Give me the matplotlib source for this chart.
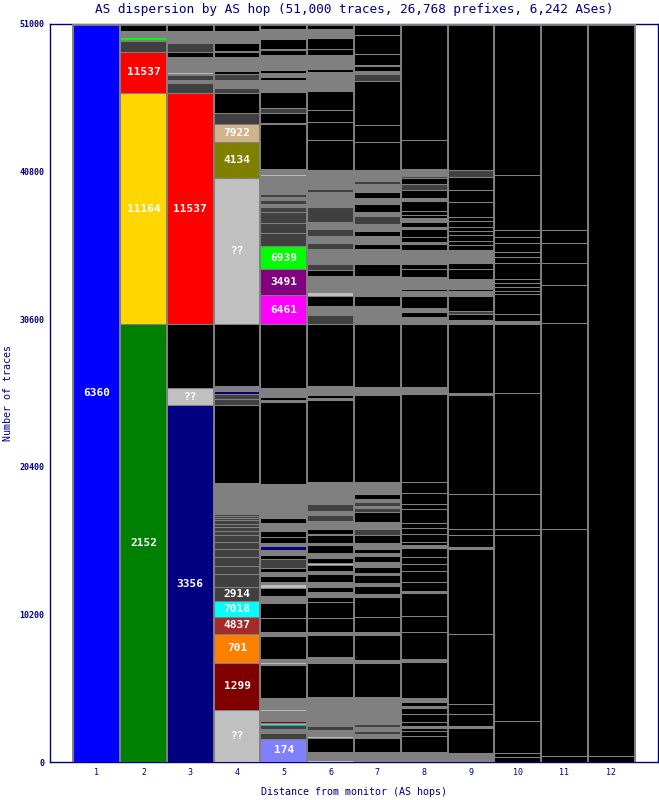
import matplotlib
matplotlib.use("Agg")
import matplotlib.pyplot as plt

# AS dispersion chart: each hop column is a stack of (traces, colour, label), bottom to top
palette = {'k': '#000000', 'd': '#404040', 'g': '#808080', 'l': '#c0c0c0',
           'blue': '#0000ff', 'green': '#008000', 'gold': '#ffd700', 'red': '#ff0000',
           'lime': '#00ff00', 'navy': '#000080', 'olive': '#808000', 'tan': '#d2b48c',
           'cyan': '#00ffff', 'brown': '#a52a2a', 'orange': '#ff8000', 'maroon': '#800000',
           'magenta': '#ff00ff', 'purple': '#800080', 'peri': '#8080ff'}

col1 = [(51000, 'blue', '6360')]

col2 = [(30240, 'green', '2152'), (15990, 'gold', '11164'), (2840, 'red', '11537'),
        (760, 'd', ''), (70, 'g', ''), (210, 'lime', ''), (100, 'g', ''), (70, 'l', ''),
        (210, 'g', ''), (600, 'k', '')]

col3 = [(24640, 'navy', '3356'), (1180, 'l', '??'), (4430, 'k', ''), (15990, 'red', '11537'),
        (690, 'd', ''), (210, 'g', ''), (350, 'd', ''), (70, 'g', ''), (140, 'l', ''),
        (1040, 'g', ''), (350, 'k', ''), (620, 'd', ''), (830, 'g', ''), (600, 'k', '')]

col4 = [(3600, 'l', '??'), (3250, 'maroon', '1299'), (2010, 'orange', '701'),
        (1180, 'brown', '4837'), (1110, 'cyan', '7018'), (970, 'd', '2914'), (900, 'd', ''),
        (550, 'd', ''), (620, 'd', ''), (550, 'd', ''), (480, 'd', ''), (480, 'd', ''),
        (280, 'd', ''), (280, 'd', ''), (210, 'd', ''), (280, 'd', ''), (140, 'd', ''),
        (140, 'd', ''), (140, 'd', ''), (130, 'g', ''), (2010, 'g', ''), (5330, 'k', ''),
        (420, 'd', ''), (350, 'd', ''), (210, 'navy', ''), (350, 'g', ''), (4290, 'k', ''),
        (10100, 'l', '??'), (2490, 'olive', '4134'), (1250, 'tan', '7922'), (760, 'd', ''),
        (1380, 'k', ''), (350, 'd', ''), (550, 'g', ''), (420, 'd', ''), (210, 'k', ''),
        (970, 'g', ''), (350, 'k', ''), (70, 'g', ''), (550, 'k', ''), (830, 'g', ''),
        (600, 'k', '')]

col5 = [(1590, 'peri', '174'), (420, 'd', ''), (280, 'g', ''), (280, 'd', ''), (140, 'cyan', ''),
        (140, 'maroon', ''), (690, 'g', ''), (140, 'l', ''), (760, 'g', ''), (2280, 'k', ''),
        (70, 'g', ''), (140, 'l', ''), (210, 'g', ''), (1590, 'k', ''), (280, 'g', ''),
        (970, 'k', ''), (1040, 'k', ''), (350, 'g', ''), (70, 'l', ''), (550, 'k', ''),
        (280, 'l', ''), (140, 'g', ''), (420, 'k', ''), (280, 'g', ''), (280, 'k', ''),
        (620, 'd', ''), (280, 'k', ''), (350, 'g', ''), (280, 'navy', ''), (210, 'g', ''),
        (420, 'k', ''), (420, 'k', ''), (550, 'g', ''), (350, 'k', ''), (350, 'g', ''),
        (2010, 'g', ''), (5670, 'k', ''), (140, 'g', ''), (210, 'k', ''), (620, 'g', ''),
        (4380, 'k', ''), (2010, 'magenta', '6461'), (1800, 'purple', '3491'),
        (1590, 'lime', '6939'), (900, 'd', ''), (690, 'd', ''), (760, 'd', ''), (350, 'd', ''),
        (210, 'g', ''), (280, 'd', ''), (210, 'g', ''), (210, 'd', ''), (420, 'g', ''),
        (830, 'g', ''), (140, 'l', ''), (350, 'g', ''), (3110, 'k', ''), (70, 'g', ''),
        (690, 'k', ''), (350, 'd', ''), (1110, 'k', ''), (830, 'g', ''), (210, 'k', ''),
        (210, 'g', ''), (210, 'k', ''), (1040, 'g', ''), (350, 'k', ''), (70, 'g', ''),
        (690, 'k', ''), (690, 'g', ''), (600, 'k', '')]

col6 = [(140, 'l', ''), (550, 'g', ''), (970, 'k', ''), (140, 'l', ''), (420, 'g', ''),
        (280, 'd', ''), (2010, 'g', ''), (2350, 'k', ''), (420, 'g', ''), (1520, 'k', ''),
        (210, 'g', ''), (970, 'k', ''), (1110, 'k', ''), (280, 'k', ''), (350, 'g', ''),
        (350, 'k', ''), (350, 'g', ''), (550, 'k', ''), (210, 'g', ''), (420, 'k', ''),
        (140, 'l', ''), (350, 'k', ''), (350, 'g', ''), (550, 'k', ''), (140, 'g', ''),
        (550, 'k', ''), (70, 'g', ''), (350, 'k', ''), (550, 'g', ''), (420, 'd', ''),
        (280, 'g', ''), (480, 'd', ''), (1520, 'g', ''), (5670, 'k', ''), (140, 'g', ''),
        (210, 'k', ''), (620, 'g', ''), (4290, 'k', ''),
        (620, 'd', ''), (70, 'l', ''), (550, 'g', ''), (690, 'k', ''), (280, 'l', ''),
        (1110, 'g', ''), (420, 'k', ''), (420, 'd', ''), (1040, 'g', ''), (420, 'd', ''),
        (480, 'g', ''), (480, 'd', ''), (480, 'g', ''), (1040, 'd', ''), (350, 'g', ''),
        (70, 'l', ''), (620, 'g', ''), (210, 'd', ''), (1310, 'g', ''), (2010, 'k', ''),
        (1250, 'k', ''), (830, 'k', ''), (1310, 'k', ''), (1310, 'g', ''), (210, 'k', ''),
        (970, 'g', ''), (420, 'k', ''), (760, 'k', ''), (620, 'g', ''), (700, 'k', '')]

col7 = [(690, 'g', ''), (970, 'k', ''), (280, 'g', ''), (210, 'd', ''), (280, 'g', ''),
        (210, 'd', ''), (280, 'g', ''), (1590, 'g', ''), (2350, 'k', ''), (210, 'g', ''),
        (1730, 'k', ''), (210, 'g', ''), (1040, 'k', ''), (1380, 'k', ''), (210, 'g', ''),
        (550, 'k', ''), (210, 'g', ''), (550, 'k', ''), (140, 'g', ''), (420, 'k', ''),
        (280, 'g', ''), (480, 'k', ''), (140, 'g', ''), (280, 'k', ''), (420, 'g', ''),
        (550, 'k', ''), (420, 'd', ''), (480, 'g', ''), (690, 'k', ''), (280, 'd', ''),
        (140, 'g', ''), (280, 'd', ''), (210, 'g', ''), (350, 'k', ''), (830, 'g', ''),
        (6020, 'k', ''), (550, 'g', ''), (4360, 'k', ''),
        (1250, 'g', ''), (690, 'k', ''), (1380, 'g', ''), (830, 'k', ''), (1040, 'g', ''),
        (350, 'k', ''), (550, 'g', ''), (350, 'k', ''), (480, 'g', ''), (550, 'd', ''),
        (280, 'g', ''), (550, 'k', ''), (420, 'g', ''), (420, 'k', ''), (550, 'g', ''),
        (210, 'd', ''), (760, 'g', ''), (1940, 'k', ''), (1180, 'k', ''), (3040, 'k', ''),
        (480, 'd', ''), (210, 'g', ''), (350, 'k', ''), (70, 'g', ''), (760, 'k', ''),
        (1310, 'k', ''), (700, 'k', '')]

col8 = [(350, 'g', ''), (70, 'd', ''), (280, 'g', ''), (1110, 'k', ''), (350, 'k', ''),
        (210, 'k', ''), (140, 'g', ''), (280, 'k', ''), (550, 'k', ''), (420, 'k', ''),
        (140, 'g', ''), (280, 'k', ''), (210, 'g', ''), (2490, 'k', ''), (210, 'g', ''),
        (1870, 'k', ''), (1110, 'k', ''), (1590, 'k', ''), (140, 'g', ''), (620, 'k', ''),
        (760, 'k', ''), (480, 'k', ''), (480, 'k', ''), (620, 'k', ''), (210, 'g', ''),
        (210, 'k', ''), (550, 'k', ''), (420, 'k', ''), (350, 'k', ''), (970, 'k', ''),
        (350, 'k', ''), (760, 'k', ''), (760, 'k', ''), (6090, 'k', ''), (480, 'g', ''),
        (4360, 'k', ''),
        (480, 'g', ''), (350, 'k', ''), (280, 'g', ''), (830, 'k', ''), (350, 'g', ''),
        (140, 'k', ''), (830, 'g', ''), (550, 'k', ''), (350, 'k', ''), (970, 'g', ''),
        (420, 'k', ''), (140, 'g', ''), (350, 'k', ''), (550, 'k', ''), (140, 'g', ''),
        (350, 'k', ''), (210, 'g', ''), (210, 'k', ''), (280, 'k', ''), (690, 'k', ''),
        (210, 'g', ''), (550, 'k', ''), (420, 'd', ''), (420, 'k', ''), (140, 'd', ''),
        (480, 'g', ''), (2010, 'k', ''), (8300, 'k', '')]

col9 = [(620, 'g', ''), (1730, 'k', ''), (140, 'g', ''), (830, 'k', ''), (690, 'k', ''),
        (4840, 'k', ''), (5880, 'k', ''), (140, 'g', ''), (830, 'k', ''), (420, 'k', ''),
        (2420, 'k', ''), (6850, 'k', ''), (140, 'g', ''), (4710, 'k', ''),
        (280, 'g', ''), (420, 'k', ''), (210, 'd', ''), (1040, 'k', ''), (350, 'g', ''),
        (140, 'k', ''), (690, 'g', ''), (690, 'k', ''), (420, 'k', ''), (900, 'g', ''),
        (350, 'k', ''), (280, 'k', ''), (420, 'k', ''), (280, 'k', ''), (280, 'k', ''),
        (420, 'k', ''), (280, 'k', ''), (1040, 'k', ''), (830, 'k', ''), (900, 'k', ''),
        (420, 'd', ''), (10400, 'k', '')]

col10 = [(350, 'k', ''), (280, 'k', ''), (2210, 'k', ''), (12870, 'k', ''), (420, 'k', ''),
         (2420, 'k', ''), (6920, 'k', ''), (4770, 'k', ''), (210, 'g', ''), (480, 'k', ''),
         (1380, 'k', ''), (210, 'k', ''), (280, 'k', ''), (280, 'k', ''), (280, 'k', ''),
         (1110, 'k', ''), (420, 'k', ''), (350, 'k', ''), (620, 'k', ''), (420, 'k', ''),
         (480, 'k', ''), (3810, 'k', ''), (10600, 'k', '')]

col11 = [(420, 'k', ''), (15710, 'k', ''), (14190, 'k', ''), (2630, 'k', ''), (1520, 'k', ''),
         (1380, 'k', ''), (900, 'k', ''), (14400, 'k', '')]

col12 = [(420, 'k', ''), (50600, 'k', '')]

columns = [col1, col2, col3, col4, col5, col6, col7, col8, col9, col10, col11, col12]
yticks = [0, 10200, 20400, 30600, 40800, 51000]

title = "AS dispersion by AS hop (51,000 traces, 26,768 prefixes, 6,242 ASes)"
navy = '#000080'
mono = 'DejaVu Sans Mono'

fig = plt.figure(figsize=(6.59, 8), dpi=100)
ax = fig.add_axes([50/659, 38/800, 608/659, 738/800])

for hop, col in enumerate(columns, start=1):
    bottom = 0
    for h, c, lab in col:
        ax.bar(hop, h, bottom=bottom, width=1.0, color=palette[c],
               edgecolor='#808080', linewidth=0.75, zorder=3)
        if lab:
            ax.text(hop, bottom + h / 2, lab, ha='center', va='center', color='white',
                    fontsize=8, fontweight='bold', family=mono, zorder=5)
        bottom += h

# column separators and top rule in the same gray as segment borders
n = len(columns)
ax.vlines([i + 0.5 for i in range(n + 1)], 0, 51000, color='#808080', linewidth=1.4, zorder=4)
ax.hlines(51000, 0.5, n + 0.5, color='#808080', linewidth=2, zorder=4)

ax.set_xlim(0, 13)
ax.set_ylim(0, 51000)
ax.set_xticks(range(1, 13))
ax.set_yticks(yticks)
ax.set_yticklabels([str(v) for v in yticks], fontsize=6, fontweight='bold',
                   color=navy, family=mono)
ax.set_xticklabels([str(i) for i in range(1, 13)], fontsize=6, color=navy, family=mono)
ax.tick_params(length=0)
ax.tick_params(axis='y', pad=4)
ax.tick_params(axis='x', pad=4)
for s in ax.spines.values():
    s.set_color(navy)
    s.set_linewidth(1)

fig.text(354/659, 1 - 9/800, title, ha='center', va='center', fontsize=9.2,
         color=navy, family=mono)
fig.text(354/659, 8/800, "Distance from monitor (AS hops)", ha='center', va='center',
         fontsize=7.2, color=navy, family=mono)
fig.text(8/659, (800 - 393) / 800, "Number of traces", ha='center',
         va='center', rotation=90, fontsize=7.2, color=navy, family=mono)

fig.savefig("out.png", dpi=100)
